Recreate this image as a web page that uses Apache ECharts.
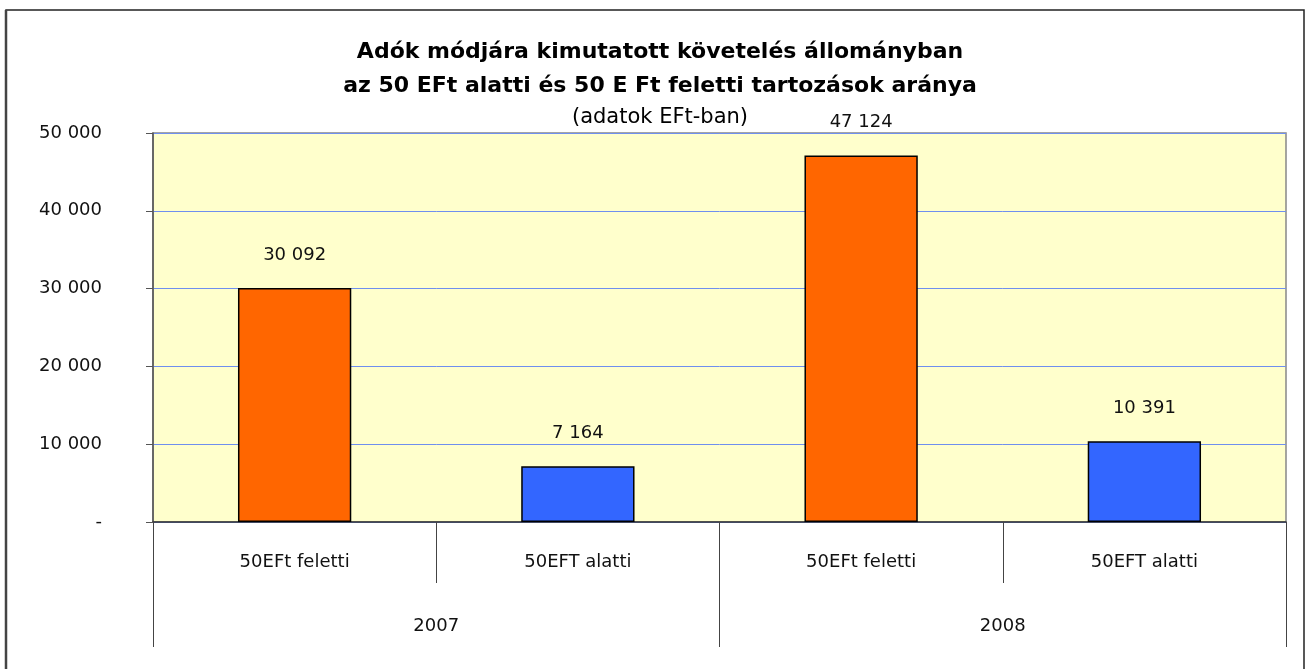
<!DOCTYPE html>
<html>
<head>
<meta charset="utf-8">
<script src="https://cdn.jsdelivr.net/npm/echarts@6/dist/echarts.min.js"></script>
<style>
html,body{margin:0;padding:0;background:#fff;}
#chart{width:1310px;height:669px;}
</style>
</head>
<body>
<div id="chart"></div>
<script>
// adatok
var categories = ['50EFt feletti', '50EFT alatti', '50EFt feletti', '50EFT alatti'];
var years = ['2007', '2008'];
var values = [30092, 7164, 47124, 10391];
var barColors = ['#FF6600', '#3366FF', '#FF6600', '#3366FF'];

var font = 'DejaVu Sans';

function fmt(v){
    if(v === 0) return '-';
    return String(v).replace(/\B(?=(\d{3})+(?!\d))/g, ' ');
}

var myChart = echarts.init(document.getElementById('chart'));
var option = {
    backgroundColor:'#fff',
    animation:false,
    title:[
        {
            text:'Adók módjára kimutatott követelés állományban\naz 50 EFt alatti és 50 E Ft feletti tartozások aránya',
            left:655,
            top:30,
            textAlign:'center',
            textStyle:{
                fontFamily:font,
                fontSize:22,
                fontWeight:'bold',
                color:'#000',
                lineHeight:34
            }
        },
        {
            text:'(adatok EFt-ban)',
            left:655,
            top:102,
            textAlign:'center',
            textStyle:{
                fontFamily:font,
                fontSize:21,
                fontWeight:'normal',
                color:'#000'
            }
        }
    ],
    graphic:[
        {
            type:'rect',
            shape:{x:6,y:10,width:1298,height:680},
            style:{fill:'none',stroke:'#222',lineWidth:1.5},
            silent:true
        },
        {
            type:'line',
            shape:{x1:6,y1:10,x2:6,y2:669},
            style:{stroke:'#444',lineWidth:2.5},
            silent:true
        }
    ],
    grid:{
        left:153,
        right:24,
        top:133,
        bottom:147,
        show:true,
        backgroundColor:'#FFFFCC',
        borderColor:'#888',
        borderWidth:1.5
    },
    xAxis:[
        {
            type:'category',
            data:categories,
            position:'bottom',
            axisLine:{lineStyle:{color:'#333',width:1.5}},
            axisTick:{show:true,interval:0,length:61,lineStyle:{color:'#444'}},
            axisLabel:{
                interval:0,
                margin:31,
                fontFamily:font,
                fontSize:18,
                color:'#111'
            }
        },
        {
            type:'category',
            data:years,
            position:'bottom',
            axisLine:{show:false},
            axisTick:{show:true,interval:0,length:125,lineStyle:{color:'#444'}},
            axisLabel:{
                interval:0,
                margin:95,
                fontFamily:font,
                fontSize:18,
                color:'#111'
            }
        }
    ],
    yAxis:{
        type:'value',
        min:0,
        max:50000,
        interval:10000,
        axisLine:{show:true,lineStyle:{color:'#555',width:1.5}},
        axisTick:{show:true,length:7,lineStyle:{color:'#555'}},
        splitLine:{lineStyle:{color:'#6F8FEF',width:1}},
        axisLabel:{
            margin:51,
            fontFamily:font,
            fontSize:18,
            color:'#111',
            formatter:fmt
        }
    },
    series:[
        {
            type:'bar',
            xAxisIndex:0,
            barWidth:'40%',
            data:values.map(function(v,i){
                return {value:v,itemStyle:{color:barColors[i]}};
            }),
            itemStyle:{borderColor:'#000',borderWidth:1.5},
            label:{
                show:true,
                position:'top',
                distance:24,
                fontFamily:font,
                fontSize:18,
                color:'#111',
                formatter:function(p){return fmt(p.value);}
            }
        }
    ]
};
myChart.setOption(option);
</script>
</body>
</html>
